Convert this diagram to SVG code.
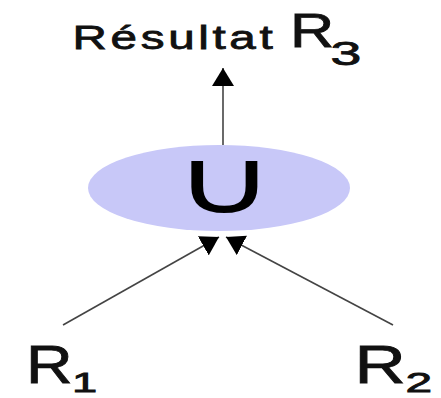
<svg xmlns="http://www.w3.org/2000/svg" width="441" height="398" viewBox="0 0 441 398">
<defs>
<style>
.lbl{font-family:"Liberation Sans",Arial,sans-serif;fill:#111;stroke:#111;stroke-width:0.8}
.edge{stroke:#444;stroke-width:1.6;fill:none}
</style>
<marker id="ah" viewBox="0 0 18 22" markerWidth="18" markerHeight="22" refX="18" refY="11" orient="auto" markerUnits="userSpaceOnUse">
<path d="M0,0 L18,11 L0,22 z" fill="#000"/>
</marker>
</defs>
<rect width="441" height="398" fill="#fff"/>
<g id="result">
<text class="lbl" transform="translate(72.6,49) scale(1.4,1)" font-size="34" letter-spacing="2.6">Résultat</text>
<text class="lbl" transform="translate(290,47) scale(1.25,1)" font-size="49">R</text>
<text class="lbl" transform="translate(330.6,65) scale(1.68,1)" font-size="33">3</text>
</g>
<g id="union">
<ellipse cx="219" cy="188" rx="131" ry="43" fill="#c8c8f8"/>
<text transform="translate(224.5,213) scale(1.55,1)" font-family="DejaVu Sans,sans-serif" font-size="90" text-anchor="middle" fill="#000">∪</text>
</g>
<g id="r1">
<text class="lbl" transform="translate(25.9,383) scale(1.22,1)" font-size="53">R</text>
<text class="lbl" transform="translate(72,392) scale(1.62,1)" font-size="28">1</text>
</g>
<g id="r2">
<text class="lbl" transform="translate(354.4,383) scale(1.34,1)" font-size="53">R</text>
<text class="lbl" transform="translate(405.6,392) scale(1.77,1)" font-size="27">2</text>
</g>
<g id="connectors">
<line class="edge" x1="223" y1="145" x2="223" y2="68" marker-end="url(#ah)"/>
<line class="edge" x1="63" y1="325" x2="219" y2="237" marker-end="url(#ah)"/>
<line class="edge" x1="393" y1="325" x2="226" y2="237" marker-end="url(#ah)"/>
</g>
</svg>
